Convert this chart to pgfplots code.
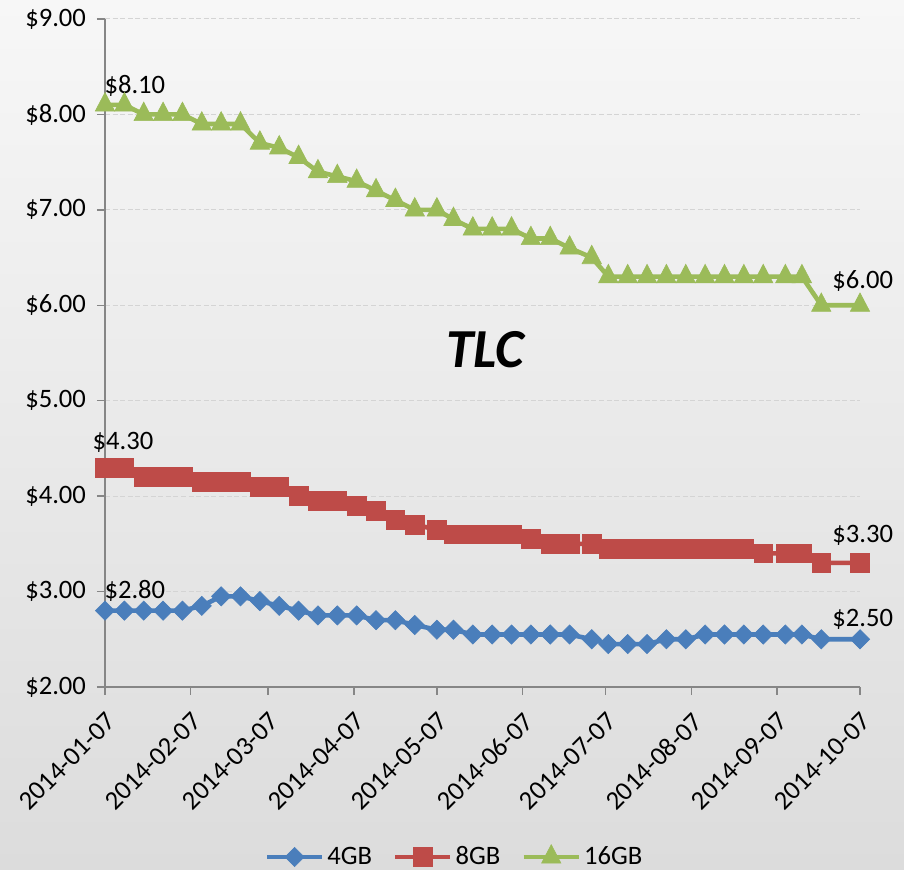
\documentclass[border=0pt]{standalone}
\usepackage{fontspec}
\setmainfont{Carlito}
\usepackage{pgfplots}
\usepackage{pgfplotstable}
\pgfplotsset{compat=1.18}
\usetikzlibrary{backgrounds}

\definecolor{c4}{HTML}{4A7EBB}
\definecolor{c8}{HTML}{BE4B48}
\definecolor{c16}{HTML}{9BBB59}
\definecolor{axgray}{HTML}{868686}
\definecolor{gridgray}{HTML}{D4D4D4}
\definecolor{bgtop}{HTML}{F7F7F7}
\definecolor{bgbot}{HTML}{DCDCDC}

% day = days since 2014-01-07
\pgfplotstableread{
day g4 g8 g16
0   2.80 4.30 8.10
7   2.80 4.30 8.10
14  2.80 4.20 8.00
21  2.80 4.20 8.00
28  2.80 4.20 8.00
35  2.85 4.15 7.90
42  2.95 4.15 7.90
49  2.95 4.15 7.90
56  2.90 4.10 7.70
63  2.85 4.10 7.65
70  2.80 4.00 7.55
77  2.75 3.95 7.40
84  2.75 3.95 7.35
91  2.75 3.90 7.30
98  2.70 3.85 7.20
105 2.70 3.75 7.10
112 2.65 3.70 7.00
120 2.60 3.65 7.00
126 2.60 3.60 6.90
133 2.55 3.60 6.80
140 2.55 3.60 6.80
147 2.55 3.60 6.80
154 2.55 3.55 6.70
161 2.55 3.50 6.70
168 2.55 3.50 6.60
176 2.50 3.50 6.50
182 2.45 3.45 6.30
189 2.45 3.45 6.30
196 2.45 3.45 6.30
203 2.50 3.45 6.30
210 2.50 3.45 6.30
217 2.55 3.45 6.30
224 2.55 3.45 6.30
231 2.55 3.45 6.30
238 2.55 3.40 6.30
246 2.55 3.40 6.30
252 2.55 3.40 6.30
259 2.50 3.30 6.00
273 2.50 3.30 6.00
}\data

\begin{document}
\begin{tikzpicture}[font=\fontsize{13.3}{15}\selectfont]
\begin{axis}[
  at={(0pt,0pt)}, anchor=south west,
  scale only axis, width=377.5pt, height=334pt,
  xmin=0, xmax=273, ymin=2, ymax=9,
  clip=false,
  axis lines*=left,
  axis line style={axgray, line width=0.75pt},
  tick align=outside, major tick length=4pt,
  tick style={axgray, line width=0.75pt},
  xtick={0,31,59,90,120,151,181,212,243,273},
  xticklabels={2014-01-07,2014-02-07,2014-03-07,2014-04-07,2014-05-07,2014-06-07,2014-07-07,2014-08-07,2014-09-07,2014-10-07},
  xticklabel style={rotate=45, anchor=north east, inner sep=2pt},
  xticklabel shift=5pt,
  ytick={2,3,4,5,6,7,8,9},
  yticklabel={\$\pgfmathprintnumber[fixed,fixed zerofill,precision=2,assume math mode=true]{\tick}},
  yticklabel shift=2pt,
  ymajorgrids,
  grid style={gridgray, dash pattern=on 2.5pt off 1.3pt, line width=0.5pt},
  legend columns=-1,
  legend style={at={(0.4636,-0.2545)}, anchor=center, draw=none, fill=none,
    nodes={inner sep=1.5pt},
    /tikz/every even column/.append style={column sep=9pt}},
  legend image code/.code={%
    \draw[#1, mark repeat=2, mark phase=2] plot coordinates {(0pt,0pt) (13.75pt,0pt) (27.5pt,0pt)};},
  every axis plot/.append style={line width=2.3pt},
]
\addplot[c4, mark=square*, mark size=3.4pt, mark options={solid, line width=0.3pt, rotate=45}] table[x=day, y=g4] {\data};
\addlegendentry{4GB}
\addplot[c8, mark=square*, mark size=4.7pt, mark options={solid, line width=0.3pt}] table[x=day, y=g8] {\data};
\addlegendentry{8GB}
\addplot[c16, mark=triangle*, mark size=5.6pt, mark options={solid, line width=0.3pt, yscale=1.1}] table[x=day, y=g16] {\data};
\addlegendentry{16GB}

\node at (axis cs:10.8,8.30) {\$8.10};
\node at (axis cs:6.5,4.56) {\$4.30};
\node at (axis cs:10.8,3.01) {\$2.80};
\node at (axis cs:274,6.25) {\$6.00};
\node at (axis cs:274,3.59) {\$3.30};
\node at (axis cs:274,2.71) {\$2.50};
\node at (axis cs:137.4,5.53) {\fontsize{27.5}{30}\selectfont\bfseries\itshape TLC};
\end{axis}
\begin{scope}[on background layer]
\fill[top color=bgtop, bottom color=bgbot] (-52.5pt,-91.5pt) rectangle (399.5pt,343.5pt);
\end{scope}
\pgfresetboundingbox
\path[use as bounding box] (-52.5pt,-91.5pt) rectangle (399.5pt,343.5pt);
\end{tikzpicture}
\end{document}
